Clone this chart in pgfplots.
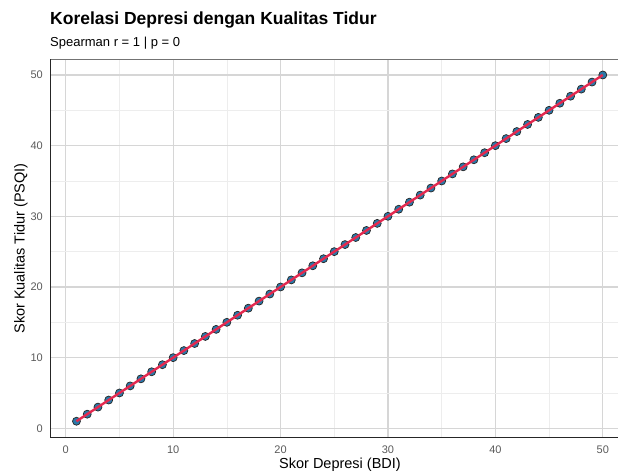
\documentclass[border=0pt]{standalone}
\usepackage{pgfplots}
\pgfplotsset{compat=1.18}
\usepackage{fontspec}
\setmainfont{Liberation Sans}
\definecolor{ptfill}{HTML}{2A78A8}
\definecolor{regline}{HTML}{E3294F}
\definecolor{majgrid}{HTML}{D6D6D6}
\definecolor{mingrid}{HTML}{EDEDED}
\definecolor{ticklab}{HTML}{5A5A5A}
\begin{document}
\begin{tikzpicture}
\useasboundingbox (0,0) rectangle (618pt,472pt);
\clip (0,0) rectangle (618pt,472pt);
\begin{axis}[
  at={(50.7pt,34.3pt)}, anchor=south west,
  width=578.4pt, height=378.4pt, scale only axis,
  xmin=-1.4, xmax=52.45, ymin=-1.33, ymax=52.22,
  xtick={0,10,...,50}, ytick={0,10,...,50},
  minor xtick={5,15,...,45}, minor ytick={5,15,...,45},
  grid=both,
  major grid style={majgrid, line width=1.1pt},
  minor grid style={mingrid, line width=0.7pt},
  major tick length=0pt, minor tick length=0pt,
  axis line style={draw=none},
  /pgf/number format/assume math mode=true,
  tick label style={font=\fontsize{11}{13}\selectfont, text=ticklab, inner sep=0pt},
  xticklabel style={anchor=north, yshift=-8pt},
  yticklabel style={anchor=east, xshift=-7.7pt},
  clip mode=individual,
]
\addplot[only marks, mark=*, mark size=4pt, mark options={fill=ptfill, draw=black!85, line width=0.7pt}] coordinates {
(1,1) (2,2) (3,3) (4,4) (5,5) (6,6) (7,7) (8,8) (9,9) (10,10)
(11,11) (12,12) (13,13) (14,14) (15,15) (16,16) (17,17) (18,18) (19,19) (20,20)
(21,21) (22,22) (23,23) (24,24) (25,25) (26,26) (27,27) (28,28) (29,29) (30,30)
(31,31) (32,32) (33,33) (34,34) (35,35) (36,36) (37,37) (38,38) (39,39) (40,40)
(41,41) (42,42) (43,43) (44,44) (45,45) (46,46) (47,47) (48,48) (49,49) (50,50)
};
\addplot[regline, line width=2.4pt, no marks] coordinates {(1,1) (50,50)};
\draw[black!55, line width=1.2pt] (rel axis cs:0,1) -- (rel axis cs:1,1);
\draw[black!85, line width=1.3pt] (rel axis cs:0,0) -- (rel axis cs:1,0);
\draw[black!85, line width=1.3pt] (rel axis cs:0,0) -- (rel axis cs:0,1);
\end{axis}
\node[anchor=base west, inner sep=0pt, font=\fontsize{17.5}{20}\selectfont\bfseries] at (50pt,447pt) {Korelasi Depresi dengan Kualitas Tidur};
\node[anchor=base west, inner sep=0pt, font=\fontsize{13}{15}\selectfont] at (50pt,425pt) {Spearman r = 1 | p = 0};
\node[anchor=base, inner sep=0pt, font=\fontsize{14.5}{17}\selectfont] at (340pt,3.6pt) {Skor Depresi (BDI)};
\node[anchor=base, rotate=90, inner sep=0pt, font=\fontsize{14.5}{17}\selectfont] at (24.5pt,223.5pt) {Skor Kualitas Tidur (PSQI)};
\end{tikzpicture}
\end{document}
